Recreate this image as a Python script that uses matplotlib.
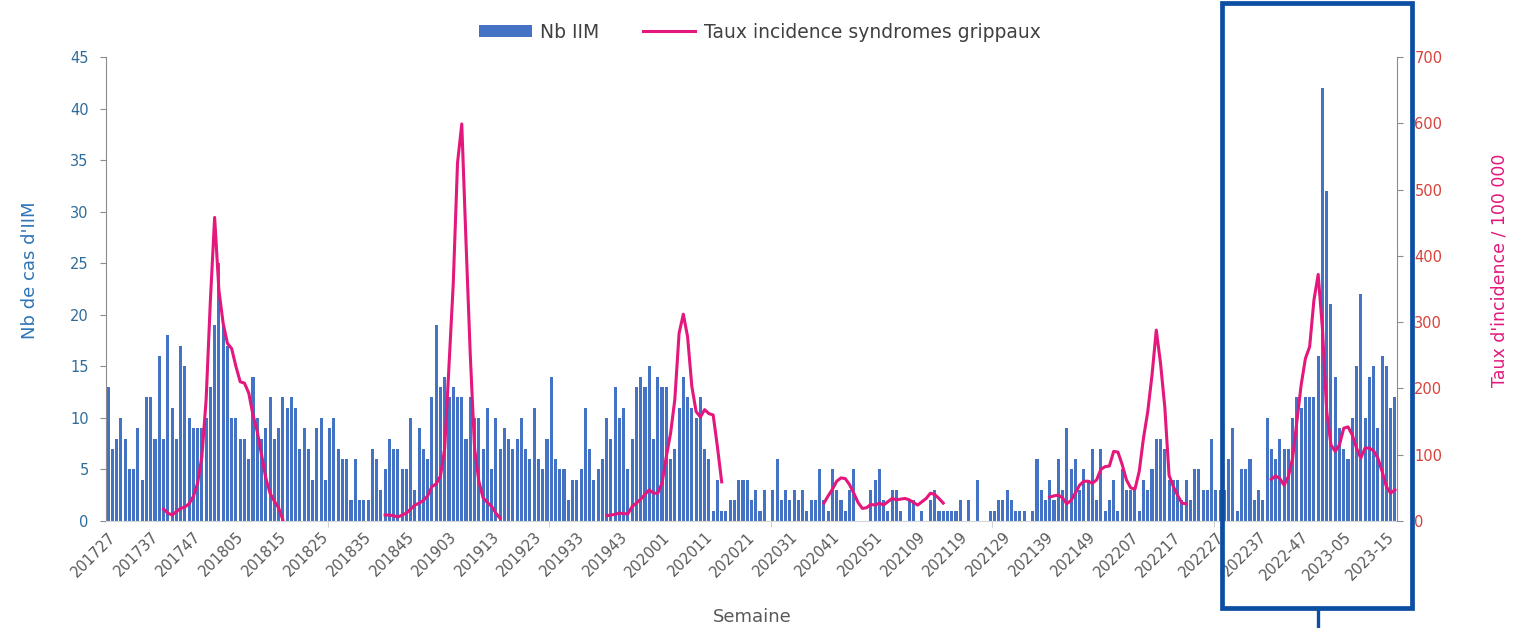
import numpy as np
import matplotlib
matplotlib.use("Agg")
import matplotlib.pyplot as plt
from matplotlib.patches import Rectangle, Patch
from matplotlib.lines import Line2D

# Nombre d'IIM par semaine, de 201727 a 2023-17 (303 semaines)
nb_iim = [
    13, 7, 8, 10, 8, 5, 5, 9, 4, 12, 12, 8, 16, 8, 18, 11, 8, 17, 15, 10, 9, 9, 9, 10, 13, 19,
    25, 19, 17, 10, 10, 8, 8, 6, 14, 10, 8, 9, 12, 8, 9, 12, 11, 12, 11, 7, 9, 7, 4, 9, 10, 4,
    9, 10, 7, 6, 6, 2, 6, 2, 2, 2, 7, 6, 3, 5, 8, 7, 7, 5, 5, 10, 3, 9, 7, 6, 12, 19,
    13, 14, 12, 13, 12, 12, 8, 12, 10, 10, 7, 11, 5, 10, 7, 9, 8, 7, 8, 10, 7, 6, 11, 6, 5, 8,
    14, 6, 5, 5, 2, 4, 4, 5, 11, 7, 4, 5, 6, 10, 8, 13, 10, 11, 5, 8, 13, 14, 13, 15, 8, 14,
    13, 13, 6, 7, 11, 14, 12, 11, 10, 12, 7, 6, 1, 4, 1, 1, 2, 2, 4, 4, 4, 2, 3, 1, 3, 0,
    3, 6, 2, 3, 2, 3, 2, 3, 1, 2, 2, 5, 2, 1, 5, 3, 2, 1, 3, 5, 0, 0, 0, 3, 4, 5,
    2, 1, 3, 3, 1, 0, 2, 2, 0, 1, 0, 2, 3, 1, 1, 1, 1, 1, 2, 0, 2, 0, 4, 0, 0, 1,
    1, 2, 2, 3, 2, 1, 1, 1, 0, 1, 6, 3, 2, 4, 2, 6, 3, 9, 5, 6, 3, 5, 4, 7, 2, 7,
    1, 2, 4, 1, 5, 3, 3, 3, 1, 4, 3, 5, 8, 8, 7, 4, 4, 4, 2, 4, 2, 5, 5, 3, 3, 8,
    3, 3, 3, 6, 9, 1, 5, 5, 6, 2, 3, 2, 10, 7, 6, 8, 7, 7, 10, 12, 11, 12, 12, 12, 16, 42,
    32, 21, 14, 9, 7, 6, 10, 15, 22, 10, 14, 15, 9, 16, 15, 11, 12,
]

# Taux d'incidence des syndromes grippaux / 100 000, par saison (semaine 40 -> 15)
taux_2017_18 = [18, 12, 9, 14, 19, 21, 26, 37, 57, 97, 183, 333, 458, 348, 298, 268, 260, 233,
                210, 208, 193, 160, 135, 100, 65, 42, 30, 20, 2]
taux_2018_19 = [9, 9, 8, 6, 9, 12, 18, 24, 27, 31, 38, 52, 56, 68, 110, 233, 358, 540, 599,
                420, 250, 110, 60, 35, 28, 22, 12, 4]
taux_2019_20 = [8, 9, 10, 12, 11, 11, 22, 27, 33, 40, 47, 42, 42, 57, 97, 132, 183, 283, 312,
                278, 203, 165, 157, 168, 162, 160, 112, 59]
taux_2020_21 = [27, 38, 48, 60, 65, 64, 55, 42, 28, 19, 20, 25, 24, 27, 24, 29, 34, 32, 33,
                34, 32, 28, 24, 29, 34, 42, 40, 34, 27]
taux_2021_22 = [36, 38, 39, 35, 26, 31, 42, 54, 60, 60, 57, 62, 78, 82, 83, 105, 104, 85, 62,
                50, 48, 75, 125, 165, 220, 288, 238, 172, 69, 52, 39, 27, 26]
taux_2022_23 = [63, 68, 64, 54, 67, 95, 150, 205, 245, 263, 333, 372, 290, 165, 115, 105, 115,
                140, 142, 130, 110, 95, 110, 110, 106, 95, 75, 52, 42, 47]
# semaine de debut de chaque saison (rang dans la serie)
saisons = [(13, taux_2017_18), (65, taux_2018_19), (117, taux_2019_20),
           (168, taux_2020_21), (221, taux_2021_22), (273, taux_2022_23)]

tick_labels = ['201727', '201737', '201747', '201805', '201815', '201825', '201835', '201845',
               '201903', '201913', '201923', '201933', '201943', '202001', '202011', '202021',
               '202031', '202041', '202051', '202109', '202119', '202129', '202139', '202149',
               '202207', '202217', '202227', '202237', '2022-47', '2023-05', '2023-15']

n = len(nb_iim)
x = np.arange(n)
taux = np.full(n, np.nan)
for start, vals in saisons:
    taux[start:start + len(vals)] = vals

blue = '#4472C4'
pink = '#E3177C'
grey = '#8C8C8C'

fig = plt.figure(figsize=(15.15, 6.28), dpi=100)
ax = fig.add_axes([106 / 1515, 1 - 521 / 628, 1291 / 1515, 464 / 628])

ax.bar(x, nb_iim, width=0.72, color=blue, zorder=2)
ax.set_xlim(-0.5, n - 0.5)
ax.set_ylim(0, 45)
ax.set_yticks(range(0, 46, 5))
ax.tick_params(axis='y', length=4.5, color=grey, labelcolor='#2E6C9B', labelsize=10.5, pad=8)

ax.set_xticks(range(0, 10 * len(tick_labels), 10))
ax.set_xticklabels(tick_labels, rotation=45, ha='right', rotation_mode='anchor')
ax.tick_params(axis='x', length=0, labelcolor='#595959', labelsize=10.5, pad=6)
# petits traits de graduation tous les 52 rangs
ax.set_xticks(np.arange(52, n, 52) - 0.5, minor=True)
ax.tick_params(axis='x', which='minor', length=4, color='#C8C8C8')

for s in ['top', 'right']:
    ax.spines[s].set_visible(False)
ax.spines['left'].set_color(grey)
ax.spines['bottom'].set_color('#D6D6D6')

ax2 = ax.twinx()
ax2.plot(x, taux, color=pink, lw=2.2, zorder=3)
ax2.set_ylim(0, 700)
ax2.set_yticks(range(0, 701, 100))
ax2.tick_params(axis='y', length=4.5, color=grey, labelcolor='#D9413A', labelsize=10.5, pad=8)
for s in ['top', 'left', 'bottom']:
    ax2.spines[s].set_visible(False)
ax2.spines['right'].set_color(grey)

fig.text(30 / 1515, 1 - 270 / 628, "Nb de cas d'IIM", rotation=90, ha='center', va='center',
         color='#2E75B6', fontsize=13)
fig.text(1500 / 1515, 1 - 270 / 628, "Taux d'incidence / 100 000", rotation=90, ha='center',
         va='center', color=pink, fontsize=12.5)
fig.text(752 / 1515, 1 - 617 / 628, 'Semaine', ha='center', va='center', color='#595959',
         fontsize=13)

handles = [Patch(facecolor=blue), Line2D([], [], color=pink, lw=2.2)]
fig.legend(handles, ['Nb IIM', 'Taux incidence syndromes grippaux'], loc='center',
           bbox_to_anchor=(760 / 1515, 1 - 32 / 628), ncol=2, frameon=False, fontsize=13.5,
           handlelength=2.8, handleheight=0.55, handletextpad=0.45, columnspacing=2.3,
           labelcolor='#404040')

# cadre de mise en evidence de la saison 2022-2023
fig.patches.append(Rectangle((1222 / 1515, 1 - 608 / 628), 190 / 1515, 605 / 628,
                             transform=fig.transFigure, fill=False, edgecolor='#0B4EA2',
                             lw=3.4, zorder=10))
fig.lines.append(Line2D([1318 / 1515, 1318 / 1515], [1 - 608 / 628, 0],
                        transform=fig.transFigure, color='#0B4EA2', lw=2.4, zorder=10))

fig.savefig('out.png', dpi=100)
